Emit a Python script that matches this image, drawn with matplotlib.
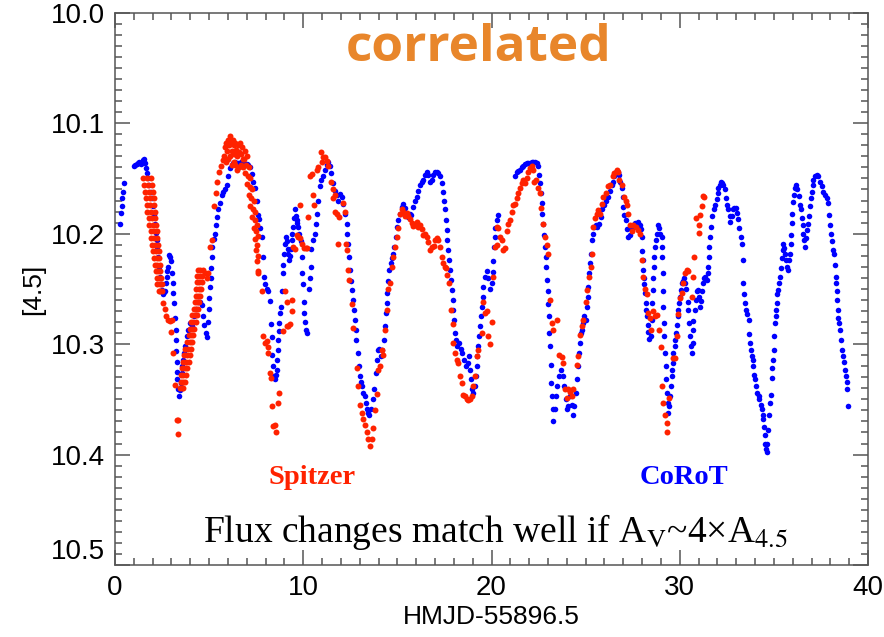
import numpy as np
import matplotlib
matplotlib.use("Agg")
import matplotlib.pyplot as plt

# CoRoT light curve (time, mag)
corot_pts = [
    (0.27, 10.191), (0.32, 10.181), (0.35, 10.175), (0.39, 10.168), (0.41, 10.162), (0.48, 10.154),
    (1.01, 10.139), (1.08, 10.138), (1.15, 10.137), (1.22, 10.136), (1.29, 10.135), (1.36, 10.137),
    (1.42, 10.136), (1.50, 10.133), (1.54, 10.132), (1.59, 10.136), (1.65, 10.141), (1.72, 10.145),
    (1.77, 10.150), (1.82, 10.156), (1.89, 10.162), (1.95, 10.168), (2.00, 10.175), (2.06, 10.183),
    (2.12, 10.191), (2.17, 10.199), (2.21, 10.206), (2.26, 10.214), (2.30, 10.221), (2.35, 10.230),
    (2.39, 10.239), (2.44, 10.246), (2.48, 10.251), (2.53, 10.254), (2.57, 10.255), (2.62, 10.253),
    (2.66, 10.252), (2.70, 10.245), (2.74, 10.239), (2.79, 10.234), (2.83, 10.230), (2.89, 10.219),
    (2.93, 10.221), (2.96, 10.225), (3.01, 10.236), (3.06, 10.245), (3.10, 10.254), (3.15, 10.263),
    (3.19, 10.276), (3.22, 10.287), (3.24, 10.296), (3.26, 10.306), (3.28, 10.316), (3.30, 10.325),
    (3.31, 10.332), (3.36, 10.341), (3.40, 10.347), (3.45, 10.342), (3.49, 10.335), (3.54, 10.326),
    (3.58, 10.320), (3.63, 10.314), (3.68, 10.308), (3.72, 10.302), (3.81, 10.293), (3.90, 10.287),
    (3.98, 10.281), (4.07, 10.284), (4.20, 10.275), (4.30, 10.268), (4.40, 10.262), (4.50, 10.262),
    (4.60, 10.265), (4.68, 10.275), (4.75, 10.283), (4.82, 10.290), (4.87, 10.294), (4.93, 10.280),
    (4.98, 10.268), (5.02, 10.258), (5.05, 10.248), (5.08, 10.240), (5.10, 10.231), (5.13, 10.221),
    (5.18, 10.212), (5.26, 10.205), (5.31, 10.200), (5.37, 10.192), (5.43, 10.185), (5.49, 10.178),
    (5.58, 10.172), (5.67, 10.165), (5.75, 10.162), (5.84, 10.160), (5.93, 10.156), (6.02, 10.148),
    (6.11, 10.141), (6.20, 10.138), (6.29, 10.136), (6.40, 10.135), (6.55, 10.136), (6.70, 10.135),
    (6.85, 10.136), (7.00, 10.137), (7.08, 10.138), (7.17, 10.140), (7.26, 10.146), (7.35, 10.153),
    (7.44, 10.159), (7.53, 10.170), (7.61, 10.183), (7.67, 10.187), (7.72, 10.195), (7.79, 10.203),
    (7.84, 10.221), (7.91, 10.239), (7.98, 10.246), (8.06, 10.250), (8.15, 10.252), (8.23, 10.261),
    (8.29, 10.282), (8.32, 10.294), (8.36, 10.310), (8.41, 10.320), (8.45, 10.329), (8.50, 10.332),
    (8.55, 10.328), (8.59, 10.323), (8.62, 10.314), (8.65, 10.305), (8.68, 10.296), (8.71, 10.288),
    (8.73, 10.281), (8.76, 10.272), (8.80, 10.266), (8.85, 10.252), (8.91, 10.236), (8.94, 10.228),
    (8.97, 10.218), (9.03, 10.209), (9.08, 10.203), (9.12, 10.207), (9.17, 10.214), (9.21, 10.218),
    (9.26, 10.224), (9.30, 10.220), (9.33, 10.214), (9.38, 10.206), (9.42, 10.200), (9.47, 10.194),
    (9.51, 10.186), (9.56, 10.178), (9.61, 10.184), (9.65, 10.188), (9.69, 10.190), (9.73, 10.194),
    (9.79, 10.200), (9.86, 10.207), (9.91, 10.221), (9.96, 10.236), (10.00, 10.246), (10.03, 10.262),
    (10.06, 10.272), (10.09, 10.280), (10.14, 10.287), (10.18, 10.290), (10.30, 10.250), (10.35, 10.240),
    (10.39, 10.230), (10.44, 10.214), (10.53, 10.206), (10.62, 10.200), (10.67, 10.191), (10.74, 10.182),
    (10.80, 10.170), (10.88, 10.157), (10.97, 10.151), (11.06, 10.148), (11.15, 10.142), (11.24, 10.138),
    (11.33, 10.135), (11.42, 10.139), (11.50, 10.145), (11.59, 10.154), (11.68, 10.161), (11.77, 10.165),
    (11.86, 10.170), (11.95, 10.164), (12.04, 10.167), (12.12, 10.173), (12.21, 10.182), (12.30, 10.191),
    (12.35, 10.200), (12.39, 10.209), (12.44, 10.221), (12.48, 10.233), (12.53, 10.243), (12.57, 10.251),
    (12.62, 10.260), (12.69, 10.269), (12.74, 10.278), (12.80, 10.287), (12.83, 10.296), (12.89, 10.308),
    (12.94, 10.320), (12.99, 10.329), (13.05, 10.334), (13.10, 10.338), (13.19, 10.344), (13.27, 10.347),
    (13.33, 10.353), (13.40, 10.359), (13.46, 10.362), (13.51, 10.364), (13.58, 10.359), (13.68, 10.350),
    (13.77, 10.341), (13.86, 10.326), (13.93, 10.314), (13.98, 10.305), (14.04, 10.304), (14.13, 10.311),
    (14.20, 10.305), (14.28, 10.296), (14.34, 10.284), (14.39, 10.272), (14.43, 10.263), (14.46, 10.254),
    (14.51, 10.243), (14.57, 10.233), (14.64, 10.227), (14.69, 10.222), (14.78, 10.218), (14.83, 10.212),
    (14.92, 10.203), (14.99, 10.194), (15.05, 10.188), (15.13, 10.182), (15.22, 10.176), (15.31, 10.173),
    (15.40, 10.177), (15.49, 10.182), (15.58, 10.185), (15.67, 10.182), (15.75, 10.183), (15.84, 10.176),
    (15.93, 10.170), (16.02, 10.167), (16.11, 10.161), (16.20, 10.156), (16.29, 10.153), (16.37, 10.151),
    (16.46, 10.147), (16.55, 10.144), (16.64, 10.147), (16.73, 10.153), (16.82, 10.151), (16.90, 10.147),
    (16.99, 10.144), (17.08, 10.144), (17.17, 10.145), (17.26, 10.148), (17.35, 10.154), (17.44, 10.162),
    (17.49, 10.170), (17.52, 10.178), (17.56, 10.188), (17.61, 10.197), (17.65, 10.206), (17.70, 10.215),
    (17.74, 10.224), (17.79, 10.233), (17.83, 10.242), (17.88, 10.251), (17.93, 10.260), (17.97, 10.269),
    (18.00, 10.278), (18.04, 10.290), (18.09, 10.296), (18.18, 10.302), (18.27, 10.299), (18.36, 10.304),
    (18.45, 10.308), (18.53, 10.314), (18.64, 10.320), (18.73, 10.317), (18.80, 10.311), (18.85, 10.323),
    (18.91, 10.332), (18.98, 10.341), (19.03, 10.344), (19.12, 10.338), (19.17, 10.329), (19.21, 10.320),
    (19.24, 10.311), (19.30, 10.302), (19.33, 10.293), (19.38, 10.284), (19.44, 10.275), (19.47, 10.266),
    (19.53, 10.257), (19.56, 10.248), (19.65, 10.239), (19.74, 10.234), (19.83, 10.240), (19.92, 10.250),
    (20.00, 10.245), (20.06, 10.235), (20.10, 10.225), (20.13, 10.212), (20.17, 10.203), (20.21, 10.195),
    (20.27, 10.188), (20.36, 10.183), (21.25, 10.148), (21.34, 10.144), (21.42, 10.143), (21.51, 10.142),
    (21.60, 10.140), (21.69, 10.139), (21.78, 10.137), (21.87, 10.136), (21.96, 10.136), (22.05, 10.136),
    (22.14, 10.135), (22.22, 10.135), (22.31, 10.135), (22.40, 10.136), (22.49, 10.139), (22.54, 10.147),
    (22.58, 10.154), (22.63, 10.163), (22.67, 10.172), (22.70, 10.182), (22.75, 10.191), (22.79, 10.201),
    (22.84, 10.212), (22.88, 10.221), (22.90, 10.230), (22.93, 10.242), (22.98, 10.252), (23.02, 10.264),
    (23.06, 10.275), (23.07, 10.290), (23.11, 10.302), (23.14, 10.319), (23.16, 10.335), (23.20, 10.347),
    (23.25, 10.359), (23.29, 10.370), (23.37, 10.359), (23.43, 10.347), (23.50, 10.338), (23.60, 10.329),
    (23.69, 10.323), (23.78, 10.329), (23.85, 10.338), (23.96, 10.350), (24.03, 10.359), (24.08, 10.356),
    (24.17, 10.347), (24.26, 10.355), (24.35, 10.364), (24.40, 10.356), (24.47, 10.344), (24.52, 10.332),
    (24.58, 10.320), (24.65, 10.308), (24.70, 10.299), (24.76, 10.290), (24.79, 10.287), (24.84, 10.281),
    (24.91, 10.275), (25.02, 10.278), (25.06, 10.266), (25.11, 10.257), (25.15, 10.248), (25.18, 10.236),
    (25.23, 10.227), (25.29, 10.218), (25.36, 10.206), (25.41, 10.200), (25.46, 10.194), (25.53, 10.192),
    (25.62, 10.194), (25.71, 10.191), (25.80, 10.185), (25.89, 10.178), (25.98, 10.174), (26.08, 10.170),
    (26.21, 10.167), (26.30, 10.161), (26.38, 10.156), (26.47, 10.153), (26.53, 10.148), (26.61, 10.144),
    (26.70, 10.144), (26.77, 10.147), (26.83, 10.153), (26.92, 10.159), (26.97, 10.167), (27.00, 10.176),
    (27.06, 10.183), (27.13, 10.188), (27.18, 10.196), (27.27, 10.203), (27.36, 10.201), (27.45, 10.196),
    (27.54, 10.192), (27.63, 10.190), (27.71, 10.192), (27.80, 10.189), (27.89, 10.192), (27.94, 10.196),
    (27.98, 10.203), (28.01, 10.216), (28.03, 10.224), (28.07, 10.233), (28.10, 10.240), (28.12, 10.246),
    (28.16, 10.254), (28.19, 10.263), (28.21, 10.269), (28.25, 10.275), (28.30, 10.283), (28.33, 10.289),
    (28.39, 10.295), (28.46, 10.293), (28.51, 10.278), (28.55, 10.263), (28.58, 10.251), (28.60, 10.240),
    (28.63, 10.230), (28.65, 10.221), (28.69, 10.212), (28.74, 10.206), (28.78, 10.200), (28.83, 10.192),
    (28.90, 10.195), (28.95, 10.200), (29.04, 10.203), (29.06, 10.212), (29.08, 10.221), (29.10, 10.236),
    (29.11, 10.252), (29.13, 10.266), (29.17, 10.281), (29.18, 10.293), (29.22, 10.308), (29.25, 10.320),
    (29.27, 10.332), (29.31, 10.344), (29.36, 10.353), (29.40, 10.362), (29.45, 10.356), (29.48, 10.347),
    (29.52, 10.338), (29.57, 10.329), (29.61, 10.323), (29.63, 10.317), (29.66, 10.308), (29.72, 10.302),
    (29.75, 10.296), (29.79, 10.290), (29.84, 10.283), (29.89, 10.275), (29.93, 10.269), (29.98, 10.263),
    (30.02, 10.257), (30.05, 10.251), (30.10, 10.245), (30.16, 10.243), (30.22, 10.240), (30.28, 10.245),
    (30.35, 10.250), (30.41, 10.262), (30.46, 10.269), (30.51, 10.281), (30.55, 10.293), (30.58, 10.302),
    (30.64, 10.308), (30.69, 10.299), (30.69, 10.287), (30.72, 10.279), (30.81, 10.269), (30.87, 10.260),
    (30.90, 10.252), (30.99, 10.251), (31.04, 10.257), (31.08, 10.266), (31.11, 10.261), (31.17, 10.252),
    (31.22, 10.245), (31.26, 10.240), (31.34, 10.239), (31.43, 10.242), (31.49, 10.236), (31.52, 10.230),
    (31.56, 10.221), (31.57, 10.212), (31.61, 10.203), (31.65, 10.194), (31.70, 10.184), (31.79, 10.178),
    (31.88, 10.174), (31.96, 10.169), (32.02, 10.163), (32.05, 10.159), (32.11, 10.156), (32.18, 10.153),
    (32.23, 10.154), (32.32, 10.156), (32.41, 10.160), (32.46, 10.168), (32.53, 10.174), (32.58, 10.178),
    (32.64, 10.184), (32.67, 10.189), (32.76, 10.184), (32.81, 10.178), (32.90, 10.177), (32.99, 10.177),
    (33.06, 10.181), (33.11, 10.187), (33.17, 10.195), (33.24, 10.203), (33.29, 10.209), (33.34, 10.224),
    (33.38, 10.245), (33.42, 10.255), (33.45, 10.263), (33.50, 10.269), (33.56, 10.273), (33.65, 10.278),
    (33.68, 10.291), (33.73, 10.299), (33.77, 10.305), (33.82, 10.311), (33.88, 10.314), (33.91, 10.320),
    (33.96, 10.328), (34.00, 10.332), (34.05, 10.338), (34.12, 10.344), (34.18, 10.347), (34.23, 10.350),
    (34.30, 10.355), (34.35, 10.359), (34.40, 10.364), (34.44, 10.368), (34.47, 10.375), (34.51, 10.382),
    (34.55, 10.390), (34.58, 10.395), (34.62, 10.398), (34.65, 10.390), (34.70, 10.378), (34.76, 10.364),
    (34.79, 10.353), (34.84, 10.346), (34.88, 10.331), (34.92, 10.322), (34.97, 10.314), (34.99, 10.305),
    (35.00, 10.293), (35.06, 10.281), (35.09, 10.275), (35.11, 10.269), (35.15, 10.263), (35.18, 10.255),
    (35.23, 10.251), (35.29, 10.245), (35.32, 10.239), (35.36, 10.231), (35.41, 10.222), (35.46, 10.215),
    (35.50, 10.209), (35.55, 10.213), (35.59, 10.218), (35.64, 10.224), (35.71, 10.230), (35.77, 10.233),
    (35.82, 10.224), (35.85, 10.218), (35.89, 10.209), (35.91, 10.201), (35.94, 10.190), (35.98, 10.182),
    (36.03, 10.171), (36.07, 10.165), (36.12, 10.159), (36.17, 10.156), (36.24, 10.160), (36.33, 10.166),
    (36.38, 10.174), (36.44, 10.178), (36.47, 10.186), (36.53, 10.192), (36.56, 10.200), (36.62, 10.206),
    (36.65, 10.212), (36.70, 10.204), (36.74, 10.197), (36.79, 10.191), (36.86, 10.184), (36.92, 10.175),
    (36.95, 10.168), (37.00, 10.162), (37.06, 10.156), (37.09, 10.151), (37.18, 10.148), (37.27, 10.147),
    (37.36, 10.148), (37.45, 10.153), (37.54, 10.157), (37.62, 10.162), (37.71, 10.165), (37.80, 10.168),
    (37.89, 10.172), (37.94, 10.183), (37.98, 10.192), (38.01, 10.200), (38.07, 10.207), (38.12, 10.215),
    (38.19, 10.218), (38.24, 10.228), (38.28, 10.239), (38.30, 10.245), (38.33, 10.252), (38.37, 10.260),
    (38.39, 10.269), (38.42, 10.276), (38.47, 10.281), (38.51, 10.287), (38.56, 10.296), (38.63, 10.305),
    (38.69, 10.311), (38.74, 10.316), (38.77, 10.323), (38.83, 10.329), (38.86, 10.334), (38.90, 10.341),
    (38.95, 10.356),
]

# Spitzer: three dense stretches at the start, then sparser points
spitzer_band1 = [
    (1.50, 10.150), (1.72, 10.150), (1.94, 10.150), (1.54, 10.156), (1.76, 10.156), (1.98, 10.156),
    (1.59, 10.162), (1.80, 10.162), (2.01, 10.162), (1.63, 10.168), (1.84, 10.168), (2.05, 10.168),
    (1.68, 10.174), (1.88, 10.174), (2.08, 10.174), (1.73, 10.180), (1.93, 10.180), (2.12, 10.180),
    (1.79, 10.186), (1.97, 10.186), (2.15, 10.186), (1.83, 10.192), (2.01, 10.192), (2.19, 10.192),
    (1.89, 10.198), (2.05, 10.198), (2.21, 10.198), (1.93, 10.204), (2.09, 10.204), (2.25, 10.204),
    (1.98, 10.210), (2.13, 10.210), (2.28, 10.210), (2.02, 10.216), (2.17, 10.216), (2.32, 10.216),
    (2.08, 10.222), (2.21, 10.222), (2.34, 10.222), (2.13, 10.228), (2.26, 10.228), (2.39, 10.228),
    (2.18, 10.234), (2.30, 10.234), (2.42, 10.234), (2.22, 10.240), (2.34, 10.240), (2.46, 10.240),
    (2.26, 10.246), (2.38, 10.246), (2.50, 10.246), (2.32, 10.252), (2.42, 10.252), (2.52, 10.252),
]
spitzer_band2 = [
    (3.48, 10.340), (3.56, 10.340), (3.64, 10.340), (3.50, 10.334), (3.60, 10.334), (3.70, 10.334),
    (3.52, 10.328), (3.64, 10.328), (3.76, 10.328), (3.56, 10.322), (3.70, 10.322), (3.84, 10.322),
    (3.60, 10.316), (3.76, 10.316), (3.92, 10.316), (3.66, 10.310), (3.82, 10.310), (3.98, 10.310),
    (3.74, 10.304), (3.90, 10.304), (4.04, 10.304), (3.82, 10.298), (3.98, 10.298), (4.10, 10.298),
    (3.92, 10.292), (4.05, 10.292), (4.16, 10.292), (4.00, 10.286), (4.11, 10.286), (4.22, 10.286),
    (4.06, 10.280), (4.17, 10.280), (4.28, 10.280), (4.12, 10.274), (4.23, 10.274), (4.34, 10.274),
    (4.18, 10.268), (4.29, 10.268), (4.40, 10.268), (4.24, 10.262), (4.35, 10.262), (4.46, 10.262),
    (4.28, 10.256), (4.40, 10.256), (4.52, 10.256), (4.32, 10.250), (4.44, 10.250), (4.56, 10.250),
    (4.35, 10.244), (4.47, 10.244), (4.60, 10.244), (4.37, 10.238), (4.50, 10.238), (4.64, 10.238),
    (4.40, 10.233), (4.52, 10.233), (4.66, 10.233), (4.80, 10.236), (4.88, 10.240), (4.95, 10.236),
]
spitzer_band3 = [
    (5.80, 10.130), (5.85, 10.122), (5.90, 10.118), (5.95, 10.125), (6.00, 10.115), (6.05, 10.120),
    (6.10, 10.112), (6.15, 10.118), (6.20, 10.125), (6.25, 10.115), (6.30, 10.120), (6.35, 10.128),
    (6.40, 10.118), (6.45, 10.124), (6.50, 10.130), (6.55, 10.120), (6.60, 10.126), (6.65, 10.118),
    (6.70, 10.128), (6.75, 10.122), (6.80, 10.132), (5.90, 10.135), (6.00, 10.132), (6.10, 10.130),
    (6.20, 10.138), (6.30, 10.135), (6.40, 10.138), (6.50, 10.142), (6.60, 10.140), (6.70, 10.138),
    (6.80, 10.140), (6.85, 10.132), (6.90, 10.125), (6.90, 10.145), (6.95, 10.138), (7.00, 10.130),
    (7.00, 10.155), (7.05, 10.148), (7.10, 10.140), (7.10, 10.165), (7.15, 10.158), (7.20, 10.150),
    (7.20, 10.175), (7.25, 10.168), (7.30, 10.160), (7.30, 10.185), (7.35, 10.178), (7.40, 10.170),
    (7.38, 10.195), (7.42, 10.188), (7.46, 10.180), (7.45, 10.205), (7.50, 10.198), (7.53, 10.192),
    (7.50, 10.215), (7.55, 10.210), (7.58, 10.202), (7.55, 10.225), (7.59, 10.220), (7.58, 10.234),
]
spitzer_pts = [
    (2.57, 10.263), (2.66, 10.268), (2.71, 10.275), (2.83, 10.278), (2.92, 10.279), (3.01, 10.278),
    (2.97, 10.289), (3.10, 10.308), (3.19, 10.337), (3.28, 10.369), (3.36, 10.369), (3.33, 10.381),
    (5.05, 10.212), (5.13, 10.206), (5.26, 10.175), (5.37, 10.163), (5.44, 10.153), (5.54, 10.144),
    (5.63, 10.139), (5.75, 10.133),
    (7.61, 10.236), (7.79, 10.252), (7.88, 10.293), (7.97, 10.299), (8.06, 10.297), (8.11, 10.308),
    (8.15, 10.303), (8.23, 10.326), (8.28, 10.331), (8.32, 10.356), (8.41, 10.374), (8.50, 10.373),
    (8.55, 10.380), (8.68, 10.353), (8.73, 10.344), (8.91, 10.288), (9.03, 10.252), (9.12, 10.262),
    (9.12, 10.284), (9.21, 10.284), (9.30, 10.282), (9.38, 10.260), (9.38, 10.270), (9.47, 10.212),
    (9.56, 10.214), (9.65, 10.201), (9.74, 10.203), (9.83, 10.204), (9.92, 10.209), (10.04, 10.213),
    (10.15, 10.213), (10.22, 10.213), (9.83, 10.174), (10.27, 10.185), (10.36, 10.148), (10.45, 10.146),
    (10.53, 10.165), (10.57, 10.174), (10.71, 10.142), (10.80, 10.140), (10.92, 10.126), (10.98, 10.135),
    (11.06, 10.131), (11.15, 10.131), (11.24, 10.134), (11.33, 10.139), (11.47, 10.153), (11.56, 10.160),
    (11.60, 10.168), (11.69, 10.165), (11.69, 10.180), (11.77, 10.182), (11.86, 10.209), (11.92, 10.185),
    (12.13, 10.172), (12.22, 10.180), (12.27, 10.209), (12.34, 10.215), (12.39, 10.233), (12.45, 10.242),
    (12.57, 10.264), (12.66, 10.285), (12.84, 10.322), (12.93, 10.338), (13.01, 10.355), (13.10, 10.362),
    (13.16, 10.368), (13.28, 10.373), (13.37, 10.380), (13.46, 10.386), (13.54, 10.392), (13.64, 10.386),
    (13.72, 10.376), (13.81, 10.360), (13.90, 10.345), (13.99, 10.323), (14.08, 10.320), (14.17, 10.305),
    (14.26, 10.310), (14.35, 10.287), (14.44, 10.269), (14.52, 10.250), (14.61, 10.245), (14.70, 10.230),
    (14.79, 10.221), (14.88, 10.212), (14.96, 10.203), (15.06, 10.195), (15.14, 10.182), (15.23, 10.178),
    (15.32, 10.180), (15.41, 10.184), (15.50, 10.181), (15.59, 10.184), (15.68, 10.187), (15.77, 10.190),
    (15.85, 10.193), (15.93, 10.192), (16.03, 10.189), (16.11, 10.194), (16.21, 10.192), (16.29, 10.196),
    (16.38, 10.201), (16.46, 10.200), (16.56, 10.203), (16.65, 10.208), (16.74, 10.215), (16.83, 10.212),
    (16.92, 10.211), (17.00, 10.206), (17.09, 10.204), (17.18, 10.206), (17.27, 10.212), (17.36, 10.221),
    (17.45, 10.227), (17.52, 10.230), (17.59, 10.231), (17.66, 10.237), (17.76, 10.245), (17.83, 10.269),
    (17.94, 10.282), (17.98, 10.299), (18.07, 10.308), (18.15, 10.314), (18.24, 10.317), (18.33, 10.329),
    (18.42, 10.335), (18.51, 10.346), (18.60, 10.347), (18.68, 10.350), (18.77, 10.351), (18.86, 10.350),
    (18.95, 10.347), (19.04, 10.338), (19.13, 10.329), (19.22, 10.311), (19.30, 10.305), (19.47, 10.290),
    (19.57, 10.262), (19.66, 10.272), (19.74, 10.270), (19.83, 10.293), (19.92, 10.300), (20.01, 10.280),
    (20.10, 10.239), (20.19, 10.212), (20.27, 10.210), (20.27, 10.194), (20.36, 10.195), (20.45, 10.203),
    (20.54, 10.206), (20.63, 10.215), (20.72, 10.213), (20.81, 10.198), (20.90, 10.191), (20.98, 10.188),
    (21.07, 10.180), (21.16, 10.174), (21.25, 10.173), (21.34, 10.168), (21.43, 10.163), (21.51, 10.159),
    (21.60, 10.154), (21.69, 10.151), (21.78, 10.154), (21.87, 10.150), (21.96, 10.144), (22.05, 10.141),
    (22.14, 10.139), (22.22, 10.142), (22.28, 10.153), (22.36, 10.151), (22.49, 10.159), (22.58, 10.163),
    (22.63, 10.177), (22.72, 10.191), (22.84, 10.203), (22.93, 10.210), (23.02, 10.218), (23.11, 10.260),
    (23.20, 10.281), (23.29, 10.287), (23.46, 10.278), (23.60, 10.310), (23.73, 10.312), (23.78, 10.317),
    (23.90, 10.341), (23.99, 10.349), (24.08, 10.341), (24.17, 10.343), (24.26, 10.347), (24.35, 10.341),
    (24.52, 10.319), (24.61, 10.311), (24.70, 10.292), (24.79, 10.284), (24.88, 10.278), (25.02, 10.262),
    (25.09, 10.251), (25.18, 10.239), (25.27, 10.230), (25.36, 10.218), (25.41, 10.194), (25.50, 10.186),
    (25.59, 10.182), (25.68, 10.179), (25.76, 10.182), (25.85, 10.173), (25.94, 10.167), (26.08, 10.163),
    (26.21, 10.157), (26.30, 10.156), (26.44, 10.148), (26.53, 10.145), (26.65, 10.142), (26.74, 10.144),
    (26.79, 10.151), (26.92, 10.156), (27.04, 10.167), (27.13, 10.170), (27.18, 10.174), (27.27, 10.182),
    (27.36, 10.192), (27.45, 10.198), (27.53, 10.192), (27.68, 10.194), (27.80, 10.197), (27.89, 10.200),
    (27.98, 10.224), (28.07, 10.239), (28.16, 10.250), (28.24, 10.255), (28.33, 10.272), (28.42, 10.276),
    (28.46, 10.287), (28.60, 10.270), (28.69, 10.275), (28.78, 10.274), (28.92, 10.287), (28.99, 10.303),
    (29.04, 10.338), (29.13, 10.353), (29.22, 10.364), (29.31, 10.371), (29.31, 10.380), (29.45, 10.349),
    (29.66, 10.313), (29.75, 10.313), (29.84, 10.293), (29.93, 10.273), (30.02, 10.258), (30.10, 10.254),
    (30.19, 10.245), (30.28, 10.236), (30.37, 10.233), (30.41, 10.234), (30.64, 10.257), (30.72, 10.239),
    (30.76, 10.221), (30.87, 10.186), (31.00, 10.192), (31.00, 10.199), (31.08, 10.183), (31.17, 10.175),
    (31.25, 10.166), (31.30, 10.167),
]

blue = "#0000ff"
red = "#ff2200"
orange = "#e8862b"

corot = np.array(corot_pts)
spitzer = np.array(spitzer_band1 + spitzer_band2 + spitzer_band3 + spitzer_pts)

plt.rcParams["font.family"] = ["Liberation Sans", "DejaVu Sans"]
plt.rcParams["mathtext.fontset"] = "stix"

fig = plt.figure(figsize=(8.84, 6.37), dpi=100)
ax = fig.add_axes([0.130, 0.113, 0.852, 0.867])

ax.plot(corot[:, 0], corot[:, 1], "o", color=blue, ms=4.0, mew=0, zorder=2)
ax.plot(spitzer[:, 0], spitzer[:, 1], "o", color=red, ms=4.3, mew=0, zorder=3)

ax.set_xlim(0, 40)
ax.set_ylim(10.5, 10.0)
ax.set_xticks([0, 10, 20, 30, 40])
ax.set_xticks(np.arange(0, 41, 1), minor=True)
ax.set_yticks([10.0, 10.1, 10.2, 10.3, 10.4, 10.5])
ax.set_yticks(np.arange(10.0, 10.501, 0.01), minor=True)
ax.set_yticklabels(["10.0", "10.1", "10.2", "10.3", "10.4", "10.5"])
ax.tick_params(which="both", direction="in", top=True, right=True,
               color="#555555", width=1.1, labelsize=20, pad=7)
ax.tick_params(which="major", length=11)
ax.tick_params(which="minor", length=5)
for sp in ax.spines.values():
    sp.set_color("#555555")
    sp.set_linewidth(1.1)
# bottom y label sits a little above its tick, as in the original
ax.get_yticklabels()[-1].set_verticalalignment("bottom")

ax.set_xlabel("HMJD-55896.5", fontsize=19, labelpad=3)
ax.set_ylabel("[4.5]", fontsize=19, labelpad=4)

ax.text(19.3, 10.032, "correlated", color=orange, fontsize=37, fontweight="bold",
        family=["Open Sans", "DejaVu Sans"], ha="center", va="center")
ax.text(10.46, 10.421, "Spitzer", color=red, fontsize=20.5, fontweight="bold",
        family=["Liberation Serif", "DejaVu Serif"], ha="center", va="center")
ax.text(30.23, 10.421, "CoRoT", color=blue, fontsize=20.5, fontweight="bold",
        family=["Liberation Serif", "DejaVu Serif"], ha="center", va="center")
ax.text(20.2, 10.470, r"Flux changes match well if A$_{\mathrm{V}}$~4×A$_{\mathrm{4.5}}$",
        color="black", fontsize=27, family=["Liberation Serif", "DejaVu Serif"],
        ha="center", va="center")

fig.savefig("out.png", dpi=100)
